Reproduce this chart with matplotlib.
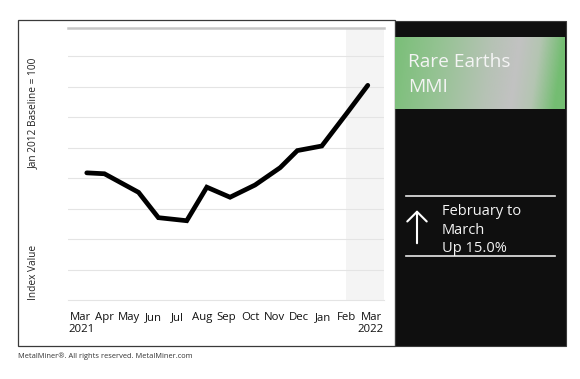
import numpy as np
import matplotlib.pyplot as plt
from matplotlib.patches import Rectangle, FancyArrowPatch
from matplotlib.lines import Line2D
from matplotlib.colors import LinearSegmentedColormap

# Rare Earths MMI, Mar 2021 - Mar 2022
months = ["Mar", "Apr", "May", "Jun", "Jul", "Aug", "Sep",
          "Oct", "Nov", "Dec", "Jan", "Feb", "Mar"]
years = ["2021", "2022"]
# where each reading sits along the month axis (reads slightly off the month ticks)
x_month = [0.25, 0.98, 2.39, 3.21, 4.38, 5.21, 6.17, 7.20, 8.24, 8.95, 9.96, 10.99, 11.86]
index_val = [417, 414, 353, 270, 260, 370, 337, 377, 434, 490, 505, 612, 704]

W, H = 580, 379
def fx(px):
    return px / W
def fy(py):
    return 1 - py / H

plt.rcParams['font.family'] = ['Open Sans', 'DejaVu Sans']
fig = plt.figure(figsize=(5.8, 3.79), dpi=100)
fig.patch.set_facecolor('white')

# white chart panel with a thin frame
fig.add_artist(Rectangle((fx(18), fy(346)), fx(395) - fx(18), fy(20) - fy(346),
                         transform=fig.transFigure, facecolor='white',
                         edgecolor='#3a3a3a', lw=0.9, zorder=0))
# black side panel
fig.add_artist(Rectangle((fx(394.5), fy(346)), fx(565.5) - fx(394.5), fy(20.5) - fy(346),
                         transform=fig.transFigure, facecolor='#0f0f0f',
                         edgecolor='#3a3a3a', lw=0.8, zorder=0))

# green banner with diagonal gradient
bax = fig.add_axes([fx(395), fy(108.7), fx(565) - fx(395), fy(36.7) - fy(108.7)])
gx, gy = np.meshgrid(np.linspace(0, 1, 300), np.linspace(0, 1, 80))
t = np.clip(gx + 0.06 * gy, 0, 1)
cmap = LinearSegmentedColormap.from_list(
    "banner", [(0, '#7abf78'), (0.3, '#98c396'), (0.58, '#b6c2b5'), (0.74, '#c2c2c2'),
               (0.86, '#b4c5b2'), (1, '#74bd72')])
bax.imshow(t, cmap=cmap, aspect='auto', extent=(0, 1, 0, 1), vmin=0, vmax=1)
bax.set_axis_off()
bax.text(0.075, 0.575, "Rare Earths", color='#f4f4f4', fontsize=13.8, va='baseline',
         ha='left', transform=bax.transAxes)
bax.text(0.075, 0.228, "MMI", color='#f4f4f4', fontsize=13.8, va='baseline',
         ha='left', transform=bax.transAxes)

# change box
for py in (195.7, 256):
    fig.add_artist(Line2D([fx(406), fx(555)], [fy(py), fy(py)], color='#e8e8e8',
                          lw=1.2, transform=fig.transFigure))
fig.add_artist(FancyArrowPatch((fx(417), fy(246)), (fx(417), fy(207.5)),
                               transform=fig.transFigure,
                               arrowstyle='->,head_width=7,head_length=7',
                               color='white', lw=1.5, mutation_scale=1))
for txt, py in (("February to", 214.5), ("March", 233.5), ("Up 15.0%", 252.5)):
    fig.text(fx(441.5), fy(py), txt, color='#f4f4f4', fontsize=10.5,
             ha='left', va='baseline')

# main chart
ax = fig.add_axes([fx(68), fy(300), fx(384) - fx(68), fy(28) - fy(300)])
ax.set_xlim(-0.525, 12.53)
ax.set_ylim(0, 892)
ax.axvspan(10.97, 12.53, color='#f4f4f4', lw=0, zorder=0)
for g in range(100, 900, 100):
    ax.axhline(g, color='#e4e4e4', lw=0.8, zorder=1)
ax.plot(x_month, index_val, color='black', lw=3.4, solid_joinstyle='miter',
        solid_capstyle='round', zorder=3)

for s in ('left', 'right'):
    ax.spines[s].set_visible(False)
ax.spines['top'].set_color('#c6c6c6')
ax.spines['top'].set_linewidth(1.8)
ax.spines['bottom'].set_color('#e4e4e4')
ax.spines['bottom'].set_linewidth(0.8)

ax.set_yticks([])
ax.set_xticks(range(len(months)))
ax.set_xticklabels(months, fontsize=8.2, color='#111111')
ax.tick_params(axis='x', length=0, pad=8.5)

ax.text(0, -0.1165, years[0], transform=ax.transAxes, fontsize=8.2,
        color='#111111', ha='left', va='baseline')
ax.text(1, -0.1165, years[1], transform=ax.transAxes, fontsize=8.2,
        color='#111111', ha='right', va='baseline')

fig.text(fx(33), fy(113), "Jan 2012 Baseline = 100", rotation=90, fontsize=7.3,
         color='#222222', ha='center', va='center')
fig.text(fx(33), fy(272), "Index Value", rotation=90, fontsize=7.3,
         color='#222222', ha='center', va='center')

fig.text(fx(18), fy(356), "MetalMiner\u00ae. All rights reserved. MetalMiner.com",
         fontsize=5.4, color='#333333', ha='left', va='center')

fig.savefig("out.png", dpi=100)
